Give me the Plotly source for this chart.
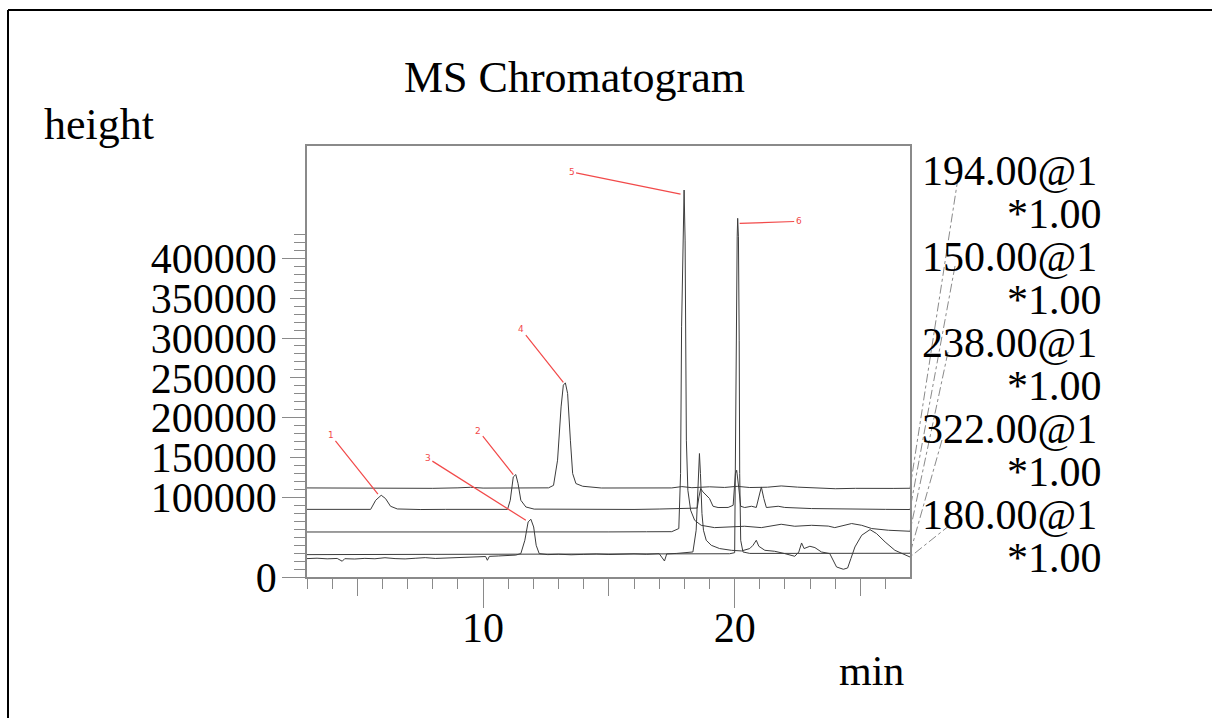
import plotly.graph_objects as go

# ---- chromatogram traces (retention time in min, signal height) ----
t_194 = [3.0, 4.0, 5.0, 6.0, 7.0, 8.0, 9.0, 9.5, 10.0, 11.0, 12.0, 12.6, 12.8, 12.96, 13.10, 13.19,
         13.27, 13.36, 13.47, 13.56, 13.69, 13.96, 14.7, 15.5, 16.5, 17.5, 17.9, 18.3, 19.0, 19.6,
         20.1, 20.6, 21.3, 21.85, 22.5, 23.2, 24.0, 24.8, 25.6, 26.3, 26.97]
h_194 = [111800, 111600, 112000, 111500, 111700, 111300, 111900, 112600, 111600, 111800, 111500,
         111900, 115000, 146600, 213500, 240800, 243700, 230300, 171700, 129900, 117300, 113900,
         111700, 111900, 112300, 111800, 113500, 112100, 113200, 112400, 113800, 112300, 112700,
         114300, 112800, 112000, 110800, 111300, 111700, 111200, 111400]

t_150 = [3.0, 4.0, 5.0, 5.53, 5.73, 5.95, 6.12, 6.32, 6.59, 7.5, 8.5, 9.5, 10.5, 10.97, 11.08, 11.20,
         11.30, 11.39, 11.50, 11.70, 12.03, 13.0, 14.0, 15.0, 16.0, 17.0, 18.0, 18.51, 18.58, 18.65,
         18.74, 18.87, 19.00, 19.14, 19.34, 19.74, 19.94, 20.03, 20.08, 20.16, 20.24, 20.40, 20.67,
         20.86, 20.97, 21.06, 21.16, 21.26, 21.73, 21.99, 23.06, 24.0, 25.05, 26.0, 26.97]
h_150 = [84900, 84600, 84800, 84900, 96300, 102600, 98500, 88800, 85400, 84700, 84900, 84600, 84800,
         84900, 96300, 125600, 128600, 117300, 96300, 87900, 85200, 85000, 84700, 85100, 84800,
         85300, 85600, 86500, 100500, 111000, 106800, 102600, 98500, 88800, 87200, 87300, 90000,
         129900, 134000, 113000, 88800, 87200, 88800, 87300, 100500, 113000, 98500, 87200, 88800,
         87300, 85900, 85300, 84700, 84900, 84700]

t_238 = [3.0, 4.5, 6.0, 7.5, 9.0, 10.5, 12.0, 13.5, 15.0, 16.5, 17.5, 17.78, 17.85, 17.89, 17.94,
         17.99, 18.03, 18.06, 18.08, 18.14, 18.25, 18.41, 18.67, 19.20, 19.80, 20.40, 21.06, 21.85,
         22.39, 23.06, 23.72, 23.98, 24.65, 25.05, 25.45, 26.11, 26.97]
h_238 = [56500, 56400, 56700, 56300, 56600, 56800, 56500, 56700, 56600, 56800, 56900, 60800, 129900,
         314000, 422900, 485700, 422900, 297300, 171700, 108900, 83800, 71200, 64900, 62000, 62500,
         63700, 62000, 66200, 63700, 64900, 63900, 62000, 67100, 64900, 60800, 58700, 57400]

t_322 = [3.0, 4.5, 6.0, 7.5, 9.0, 10.5, 12.0, 13.5, 15.0, 16.5, 18.0, 19.0, 19.8, 20.0, 20.04, 20.07,
         20.10, 20.12, 20.15, 20.18, 20.20, 20.24, 20.33, 20.6, 21.5, 22.5, 23.5, 24.5, 25.5, 26.97]
h_322 = [28100, 28200, 28100, 28300, 28200, 28400, 28300, 28500, 28600, 28700, 28900, 29000, 29200,
         30500, 255500, 364200, 427000, 450200, 427000, 297300, 129900, 46100, 31400, 29600, 29500,
         29700, 29600, 29800, 29700, 29800]

t_180 = [3.0, 3.4, 3.8, 4.2, 4.4, 4.5, 4.9, 5.3, 5.7, 6.1, 6.5, 6.9, 7.3, 7.7, 8.1, 8.5, 8.9, 9.3,
         9.7, 10.1, 10.17, 10.25, 10.6, 11.0, 11.3, 11.50, 11.66, 11.79, 11.90, 12.01, 12.11, 12.23,
         12.57, 13.0, 13.5, 14.0, 14.5, 15.0, 15.5, 16.0, 16.5, 17.0, 17.21, 17.3, 17.7, 18.1, 18.34,
         18.47, 18.54, 18.60, 18.64, 18.70, 18.76, 18.87, 19.07, 19.40, 19.87, 20.27, 20.60, 20.73,
         20.86, 20.96, 21.20, 21.59, 21.99, 22.39, 22.55, 22.66, 22.76, 22.99, 23.19, 23.45, 23.78,
         23.92, 24.05, 24.32, 24.49, 24.62, 24.78, 25.05, 25.38, 25.64, 25.98, 26.37, 26.77, 26.97]
h_180 = [23100, 23600, 22800, 23300, 19800, 23000, 22600, 23400, 22900, 24200, 23100, 22700, 23500,
         24300, 23300, 23900, 24400, 24900, 25300, 25700, 21000, 25900, 26400, 26900, 27500, 29400,
         46100, 69100, 72500, 62800, 39800, 29400, 28100, 28600, 27900, 28400, 28900, 28200, 28800,
         29100, 28500, 29300, 20100, 29000, 29600, 30200, 31400, 58700, 113000, 155000, 129900,
         79600, 58700, 46100, 39800, 35700, 33500, 32700, 35700, 39800, 46100, 38600, 33500, 32300,
         29400, 26000, 31400, 42700, 35700, 38600, 36900, 31400, 29400, 21000, 12600, 9700, 11300,
         23100, 37700, 52400, 59500, 54500, 44000, 33500, 27300, 25100]

# channel labels (m/z @ scan, scale factor), top to bottom
channel_names = ["194.00@1", "150.00@1", "238.00@1", "322.00@1", "180.00@1"]
channel_scale = ["*1.00", "*1.00", "*1.00", "*1.00", "*1.00"]

# numbered peak labels: (label, time, height at arrow head)
peak_ids = ["1", "2", "3", "4", "5", "6"]
peak_t = [5.82, 11.20, 11.70, 13.19, 17.85, 20.20]
peak_h = [103900, 128600, 71200, 244200, 480700, 443900]

# y tick labels
ytick_vals = [0, 50000, 100000, 150000, 200000, 250000, 300000, 350000, 400000]
ytick_text = ["0", "", "100000", "150000", "200000", "250000", "300000", "350000", "400000"]

# ---- page geometry ----
W, H = 1212, 718
ML, MR, MT, MB = 307, 302, 146, 141
PW, PH = W - ML - MR, H - MT - MB
X_RANGE = [3.0, 26.97]
Y_RANGE = [0, 541000]


def px(xp):
    return (xp - ML) / PW


def py(yp):
    return (H - MB - yp) / PH


SERIF = "Liberation Serif"
LINE = "#3c3c3c"
FRAME = "#8a8a8a"
RED = "#f24a4a"

fig = go.Figure()
series = [(t_194, h_194), (t_150, h_150), (t_238, h_238), (t_322, h_322), (t_180, h_180)]
for (tt, hh), nm in zip(series, channel_names):
    fig.add_trace(go.Scatter(x=tt, y=hh, mode="lines", name=nm,
                             line=dict(color=LINE, width=1), showlegend=False,
                             hoverinfo="skip"))

# helper trace so the secondary tick axes get drawn
fig.add_trace(go.Scatter(x=[], y=[], xaxis="x2", yaxis="y2", showlegend=False))

fig.update_layout(
    width=W, height=H,
    margin=dict(l=ML, r=MR, t=MT, b=MB, pad=0),
    paper_bgcolor="white", plot_bgcolor="white",
    font=dict(family=SERIF, size=42, color="black"),
    xaxis=dict(range=X_RANGE, tickvals=[10, 20], ticks="outside", ticklen=29,
               tickcolor=FRAME, tickwidth=1, showgrid=False, zeroline=False,
               showline=True, linecolor=FRAME, linewidth=1.5, mirror=True,
               ticklabelstandoff=-16,
               tickfont=dict(family=SERIF, size=42, color="black"),
               minor=dict(tickmode="array", tickvals=list(range(3, 27)), ticks="outside",
                          ticklen=10, tickcolor=FRAME, tickwidth=1, showgrid=False)),
    xaxis2=dict(range=X_RANGE, overlaying="x", anchor="y", side="bottom",
                tickvals=[5, 15, 25], ticks="outside", ticklen=18, tickcolor=FRAME,
                tickwidth=1, showticklabels=False, showgrid=False, zeroline=False,
                showline=False),
    yaxis=dict(range=Y_RANGE, tickvals=ytick_vals, ticktext=ytick_text, ticks="outside",
               ticklen=15, tickcolor=FRAME, tickwidth=1, showgrid=False, zeroline=False,
               showline=True, linecolor=FRAME, linewidth=1.5, mirror=True,
               ticklabelstandoff=5,
               tickfont=dict(family=SERIF, size=42, color="black"),
               minor=dict(tickmode="array", tickvals=list(range(10000, 440000, 10000)),
                          ticks="outside", ticklen=11, tickcolor=FRAME, tickwidth=1,
                          showgrid=False)),
    yaxis2=dict(range=Y_RANGE, overlaying="y", anchor="x", side="left",
                tickvals=[0, 100000, 200000, 300000, 400000], ticks="outside", ticklen=24,
                tickcolor=FRAME, tickwidth=1, showticklabels=False, showgrid=False,
                zeroline=False, showline=False),
)

# peak number callouts
for lab, tx, hy, (ax, ay) in zip(peak_ids, peak_t, peak_h,
                                 [(-47, -59), (-35, -44), (-98, -62), (-42, -53), (-109, -22), (59, -2)]):
    fig.add_annotation(x=tx, y=hy, text=lab, showarrow=True, arrowhead=0, arrowwidth=1.2,
                       arrowcolor=RED, ax=ax, ay=ay, standoff=0, startstandoff=0,
                       font=dict(family="DejaVu Sans", size=9, color=RED))

# titles
fig.add_annotation(text="MS Chromatogram", xref="paper", yref="paper", x=px(574), y=py(78),
                   showarrow=False, font=dict(family=SERIF, size=44), xanchor="center",
                   yanchor="middle")
fig.add_annotation(text="height", xref="paper", yref="paper", x=px(42), y=py(124),
                   showarrow=False, font=dict(family=SERIF, size=44), xanchor="left",
                   yanchor="middle")
fig.add_annotation(text="min", xref="paper", yref="paper", x=px(906), y=py(671),
                   showarrow=False, font=dict(family=SERIF, size=42), xanchor="right",
                   yanchor="middle")

# channel labels and dash-dot leaders to the trace ends
label_rows = [171, 257, 343, 429, 515]
leader_start = [(958, 178), (955, 266), (948, 352), (942, 440), (950, 525)]
for i, (nm, sc) in enumerate(zip(channel_names, channel_scale)):
    yr = label_rows[i]
    fig.add_annotation(text=nm, xref="paper", yref="paper", x=px(920), y=py(yr),
                       showarrow=False, xanchor="left", yanchor="middle",
                       font=dict(family=SERIF, size=42))
    fig.add_annotation(text=sc, xref="paper", yref="paper", x=px(1104), y=py(yr + 43),
                       showarrow=False, xanchor="right", yanchor="middle",
                       font=dict(family=SERIF, size=42))
    end_val = series[i][1][-1]
    sx, sy = leader_start[i]
    fig.add_shape(type="line", xref="paper", yref="paper", x0=px(sx), y0=py(sy), x1=1.0,
                  y1=end_val / Y_RANGE[1], line=dict(color="#8a8a8a", width=1, dash="dashdot"))

# page frame (top and left edges)
fig.add_shape(type="line", xref="paper", yref="paper", x0=px(8), y0=py(10), x1=px(1212),
              y1=py(10), line=dict(color="black", width=2))
fig.add_shape(type="line", xref="paper", yref="paper", x0=px(8), y0=py(10), x1=px(8),
              y1=py(718), line=dict(color="black", width=2))

fig.write_html("out.html")
